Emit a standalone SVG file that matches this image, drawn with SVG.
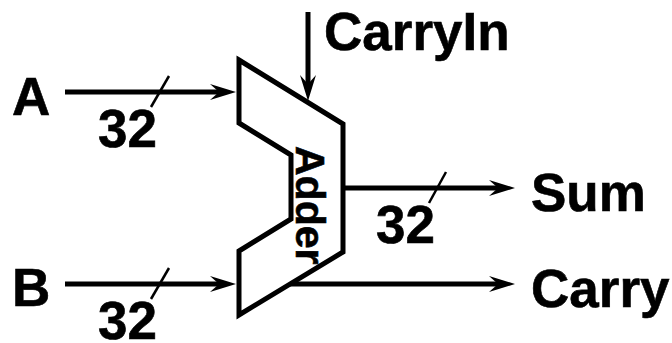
<svg xmlns="http://www.w3.org/2000/svg" width="672" height="343" viewBox="0 0 672 343">
<style>
.t{font-family:"Liberation Sans",Arial,sans-serif;font-weight:700;font-size:53px;fill:#000;stroke:#000;stroke-width:.6}
.a{font-size:41px}
.c{fill:none;stroke:#000;stroke-width:5}
.s{fill:none;stroke:#000;stroke-width:2.5}
</style>
<defs>
<marker id="h" markerUnits="userSpaceOnUse" markerWidth="27" markerHeight="18" refX="16" refY="8" orient="auto">
<path d="M0 0L26 8L0 16L9 8Z" fill="#000"/>
</marker>
</defs>
<rect width="672" height="343" fill="#fff"/>
<g id="adder">
<text class="t a" transform="translate(296 146) rotate(90)">Adder</text>
<path class="c" d="M239 60L343 124V252L239 315V251L291 219V155L239 123Z"/>
</g>
<g id="connectors">
<path class="c" d="M65 92H226" marker-end="url(#h)"/>
<path class="c" d="M65 284H226" marker-end="url(#h)"/>
<path class="c" d="M308 12V91" marker-end="url(#h)"/>
<path class="c" d="M345 188H505" marker-end="url(#h)"/>
<path class="c" d="M290 284H505" marker-end="url(#h)"/>
<path class="s" d="M151 107L169 76"/>
<path class="s" d="M151 299L169 268"/>
<path class="s" d="M429 203L446 172"/>
</g>
<g id="label-a"><text class="t" x="12" y="115">A</text></g>
<g id="label-b"><text class="t" x="12" y="306">B</text></g>
<g id="label-carryin"><text class="t" x="324" y="50">CarryIn</text></g>
<g id="label-sum"><text class="t" x="531" y="211">Sum</text></g>
<g id="label-carry"><text class="t" x="531" y="307">Carry</text></g>
<g id="width-a"><text class="t" x="98" y="147">32</text></g>
<g id="width-b"><text class="t" x="98" y="339">32</text></g>
<g id="width-sum"><text class="t" x="376" y="243">32</text></g>
</svg>
